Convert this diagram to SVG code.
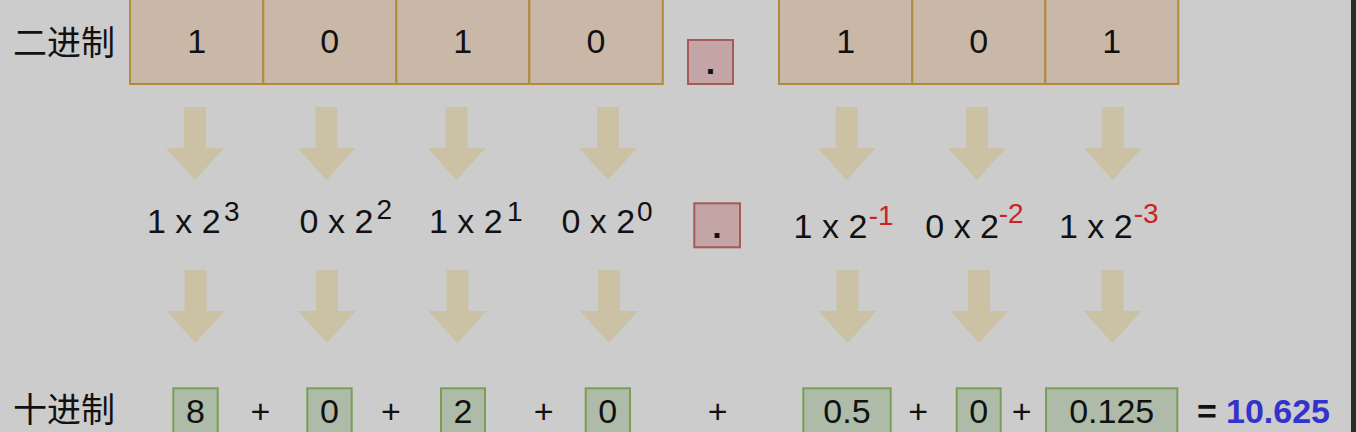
<svg xmlns="http://www.w3.org/2000/svg" width="1356" height="432" viewBox="0 0 1356 432">
<defs>
<style>
text{font-family:"Liberation Sans",Arial,"Noto Sans CJK SC",sans-serif;fill:#111;}
.cjk{font-family:"Noto Sans CJK SC","Liberation Sans",sans-serif;font-size:34px;}
.bin{fill:#c9b8a7;stroke:#b08c3a;stroke-width:2;}
.dotbox{fill:#c4a5a6;stroke:#a65a5a;stroke-width:2;}
.dec{fill:#aebba8;stroke:#7a9e55;stroke-width:2;}
.d{font-size:34px;text-anchor:middle;}
.m{font-size:34px;}
.s{font-size:28px;}
.r{fill:#cc2222;}
.arr{fill:#cbc1a4;}
.dot{font-size:34px;font-weight:bold;text-anchor:middle;}
</style>
<polygon id="arrowShape" points="-11,0 11,0 11,41 29,41 0,73 -29,41 -11,41"/>
</defs>
<rect x="0" y="0" width="1356" height="432" fill="#cccccc"/>
<rect x="1351" y="0" width="5" height="432" fill="#2b2b2b"/>

<g id="label-binary"><text class="cjk" x="13" y="55">二进制</text></g>
<g id="label-decimal"><text class="cjk" x="13" y="422">十进制</text></g>

<g id="bin-1"><rect class="bin" x="130" y="-10" width="133.3" height="94"/><text class="d" x="196.7" y="53">1</text></g>
<g id="bin-2"><rect class="bin" x="263.3" y="-10" width="133" height="94"/><text class="d" x="329.8" y="53">0</text></g>
<g id="bin-3"><rect class="bin" x="396.3" y="-10" width="133" height="94"/><text class="d" x="462.8" y="53">1</text></g>
<g id="bin-4"><rect class="bin" x="529.3" y="-10" width="133.5" height="94"/><text class="d" x="596" y="53">0</text></g>
<g id="bin-dot"><rect class="dotbox" x="688" y="40" width="45" height="44"/><text class="dot" x="710.5" y="74">.</text></g>
<g id="bin-5"><rect class="bin" x="779" y="-10" width="133.3" height="94"/><text class="d" x="845.6" y="53">1</text></g>
<g id="bin-6"><rect class="bin" x="912.3" y="-10" width="133" height="94"/><text class="d" x="978.8" y="53">0</text></g>
<g id="bin-7"><rect class="bin" x="1045.3" y="-10" width="133" height="94"/><text class="d" x="1111.8" y="53">1</text></g>

<g id="connectors">
<use href="#arrowShape" class="arr" x="195" y="107"/>
<use href="#arrowShape" class="arr" x="326.5" y="107"/>
<use href="#arrowShape" class="arr" x="456.5" y="107"/>
<use href="#arrowShape" class="arr" x="608" y="107"/>
<use href="#arrowShape" class="arr" x="846.7" y="107"/>
<use href="#arrowShape" class="arr" x="977" y="107"/>
<use href="#arrowShape" class="arr" x="1112.8" y="107"/>
<use href="#arrowShape" class="arr" x="195.5" y="270"/>
<use href="#arrowShape" class="arr" x="327" y="270"/>
<use href="#arrowShape" class="arr" x="457.5" y="270"/>
<use href="#arrowShape" class="arr" x="609" y="270"/>
<use href="#arrowShape" class="arr" x="847.5" y="270"/>
<use href="#arrowShape" class="arr" x="979" y="270"/>
<use href="#arrowShape" class="arr" x="1112.5" y="270"/>
</g>

<g id="expr-1"><text class="m" x="147" y="233">1 x 2</text><text class="s" x="224" y="221">3</text></g>
<g id="expr-2"><text class="m" x="299.6" y="233">0 x 2</text><text class="s" x="376.5" y="219">2</text></g>
<g id="expr-3"><text class="m" x="429" y="233">1 x 2</text><text class="s" x="507" y="221">1</text></g>
<g id="expr-4"><text class="m" x="561.5" y="233">0 x 2</text><text class="s" x="637" y="221">0</text></g>
<g id="expr-dot"><rect class="dotbox" x="694.3" y="203.3" width="45.7" height="44"/><text class="dot" x="717" y="238">.</text></g>
<g id="expr-5"><text class="m" x="793.6" y="238">1 x 2</text><text class="s r" x="868.8" y="225">-1</text></g>
<g id="expr-6"><text class="m" x="925.3" y="238">0 x 2</text><text class="s r" x="998.8" y="223">-2</text></g>
<g id="expr-7"><text class="m" x="1059" y="238">1 x 2</text><text class="s r" x="1133.8" y="223">-3</text></g>

<g id="dec-1"><rect class="dec" x="173.3" y="388.3" width="44.4" height="48"/><text class="d" x="195.5" y="423">8</text></g>
<g id="plus-1"><text class="d" x="260.5" y="423">+</text></g>
<g id="dec-2"><rect class="dec" x="307.3" y="388.3" width="44.4" height="48"/><text class="d" x="329.5" y="423">0</text></g>
<g id="plus-2"><text class="d" x="391" y="423">+</text></g>
<g id="dec-3"><rect class="dec" x="441" y="388.3" width="44" height="48"/><text class="d" x="463" y="423">2</text></g>
<g id="plus-3"><text class="d" x="543.7" y="423">+</text></g>
<g id="dec-4"><rect class="dec" x="585.7" y="388.3" width="44.3" height="48"/><text class="d" x="607.8" y="423">0</text></g>
<g id="plus-4"><text class="d" x="717.7" y="423">+</text></g>
<g id="dec-5"><rect class="dec" x="803.3" y="388.3" width="87.4" height="48"/><text class="d" x="847" y="423">0.5</text></g>
<g id="plus-5"><text class="d" x="918.3" y="423">+</text></g>
<g id="dec-6"><rect class="dec" x="956.7" y="388.3" width="44" height="48"/><text class="d" x="978.7" y="423">0</text></g>
<g id="plus-6"><text class="d" x="1021.7" y="423">+</text></g>
<g id="dec-7"><rect class="dec" x="1046" y="388.3" width="131.3" height="48"/><text class="d" x="1111.7" y="423">0.125</text></g>
<g id="result"><text class="d" x="1207" y="423" font-weight="bold">=</text><text x="1226" y="423" font-size="34" font-weight="bold" style="fill:#3333cc">10.625</text></g>
</svg>
